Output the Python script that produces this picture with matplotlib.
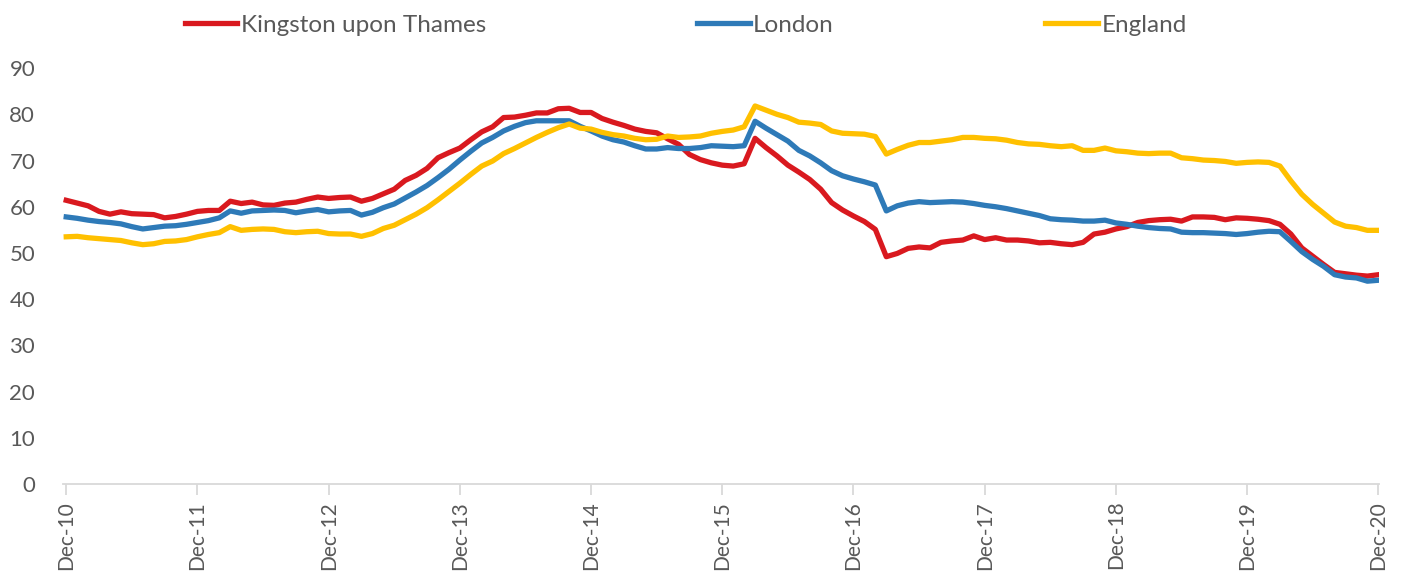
import numpy as np
import matplotlib
matplotlib.use("Agg")
import matplotlib.pyplot as plt

# monthly series, Dec-10 .. Dec-20 (121 points)
kingston = [61.4, 60.8, 60.2, 59.0, 58.4, 58.9, 58.5, 58.4, 58.3, 57.6,
            57.9, 58.4, 59.0, 59.2, 59.2, 61.2, 60.7, 61.0, 60.4, 60.3,
            60.8, 61.0, 61.6, 62.1, 61.8, 62.0, 62.1, 61.2, 61.8, 62.8,
            63.8, 65.7, 66.8, 68.3, 70.6, 71.7, 72.7, 74.5, 76.2, 77.3,
            79.3, 79.4, 79.8, 80.3, 80.3, 81.2, 81.3, 80.4, 80.4, 79.1,
            78.3, 77.6, 76.8, 76.3, 76.0, 74.7, 73.5, 71.3, 70.2, 69.5,
            69.0, 68.8, 69.3, 74.8, 72.8, 71.0, 69.0, 67.5, 65.9, 63.8,
            60.9, 59.3, 58.0, 56.8, 55.1, 49.2, 49.9, 51.0, 51.3, 51.1,
            52.3, 52.6, 52.8, 53.7, 52.9, 53.3, 52.8, 52.8, 52.6, 52.2,
            52.3, 52.0, 51.8, 52.3, 54.1, 54.5, 55.2, 55.7, 56.6, 57.0,
            57.2, 57.3, 56.9, 57.8, 57.8, 57.7, 57.2, 57.6, 57.5, 57.3,
            57.0, 56.2, 54.1, 51.1, 49.3, 47.5, 45.8, 45.5, 45.2, 45.0,
            45.3]

london = [57.8, 57.5, 57.1, 56.8, 56.6, 56.3, 55.7, 55.2, 55.5, 55.8,
          55.9, 56.2, 56.6, 57.0, 57.6, 59.1, 58.6, 59.1, 59.2, 59.3,
          59.2, 58.7, 59.1, 59.4, 58.9, 59.1, 59.2, 58.2, 58.8, 59.8,
          60.6, 61.9, 63.2, 64.6, 66.3, 68.1, 70.1, 72.0, 73.8, 75.0,
          76.4, 77.4, 78.2, 78.6, 78.6, 78.6, 78.6, 77.4, 76.4, 75.3,
          74.5, 74.0, 73.2, 72.5, 72.5, 72.8, 72.6, 72.6, 72.8, 73.2,
          73.1, 73.0, 73.2, 78.5, 77.0, 75.6, 74.2, 72.2, 71.0, 69.5,
          67.8, 66.7, 66.0, 65.4, 64.7, 59.1, 60.2, 60.8, 61.1, 60.9,
          61.0, 61.1, 61.0, 60.7, 60.3, 60.0, 59.6, 59.1, 58.6, 58.1,
          57.4, 57.2, 57.1, 56.9, 56.9, 57.1, 56.5, 56.2, 55.8, 55.5,
          55.3, 55.2, 54.5, 54.4, 54.4, 54.3, 54.2, 54.0, 54.2, 54.5,
          54.7, 54.6, 52.5, 50.3, 48.6, 47.1, 45.3, 44.8, 44.6, 43.9,
          44.1]

england = [53.5, 53.6, 53.3, 53.1, 52.9, 52.7, 52.2, 51.8, 52.0, 52.5,
           52.6, 52.9, 53.5, 54.0, 54.4, 55.7, 54.9, 55.1, 55.2, 55.1,
           54.6, 54.4, 54.6, 54.7, 54.2, 54.1, 54.1, 53.6, 54.2, 55.3,
           56.0, 57.2, 58.4, 59.8, 61.5, 63.3, 65.1, 67.0, 68.8, 69.9,
           71.5, 72.6, 73.8, 75.0, 76.1, 77.1, 77.9, 77.0, 76.8, 76.1,
           75.6, 75.3, 74.8, 74.5, 74.6, 75.3, 75.0, 75.1, 75.3, 75.9,
           76.3, 76.6, 77.3, 81.8, 80.9, 80.0, 79.3, 78.3, 78.1, 77.8,
           76.4, 75.9, 75.8, 75.7, 75.2, 71.4, 72.4, 73.3, 73.9, 73.9,
           74.2, 74.5, 75.0, 75.0, 74.8, 74.7, 74.4, 73.9, 73.6, 73.5,
           73.2, 73.0, 73.2, 72.2, 72.2, 72.7, 72.1, 71.9, 71.6, 71.5,
           71.6, 71.6, 70.6, 70.4, 70.1, 70.0, 69.8, 69.4, 69.6, 69.7,
           69.6, 68.8, 65.6, 62.7, 60.5, 58.6, 56.7, 55.8, 55.5, 54.9,
           54.9]

tick_labels = ['Dec-10', 'Dec-11', 'Dec-12', 'Dec-13', 'Dec-14', 'Dec-15',
               'Dec-16', 'Dec-17', 'Dec-18', 'Dec-19', 'Dec-20']

plt.rcParams['font.family'] = ['Lato', 'DejaVu Sans']

months = np.arange(len(kingston))

fig = plt.figure(figsize=(14.05, 5.77), dpi=100)
ax = fig.add_axes([0.0448, 0.161, 0.937, 0.721])

ax.plot(months, kingston, color='#D9191F', lw=3.8, label='Kingston upon Thames',
        solid_joinstyle='round')
ax.plot(months, london, color='#2E7AB8', lw=3.8, label='London',
        solid_joinstyle='round')
ax.plot(months, england, color='#FFC000', lw=3.8, label='England',
        solid_joinstyle='round')

ax.set_ylim(0, 90)
ax.set_xlim(-0.3, 120.1)
ax.set_yticks(range(0, 91, 10))
ax.set_xticks(np.arange(0, 121, 12))
ax.set_xticklabels(tick_labels, rotation=90)

for s in ['top', 'right', 'left']:
    ax.spines[s].set_visible(False)
ax.spines['bottom'].set_color('#D9D9D9')
ax.spines['bottom'].set_linewidth(1.3)
ax.tick_params(axis='y', length=0, pad=20, labelsize=16, labelcolor='#595959')
ax.tick_params(axis='x', length=8, width=1.3, color='#D9D9D9', pad=4,
               labelsize=15, labelcolor='#595959')

fig.legend(loc='upper center', bbox_to_anchor=(0.488, 1.012), ncol=3,
           frameon=False, fontsize=17.5, labelcolor='#595959',
           handlelength=2.15, handletextpad=0.15, columnspacing=8.7)

fig.savefig('out.png', dpi=100)
